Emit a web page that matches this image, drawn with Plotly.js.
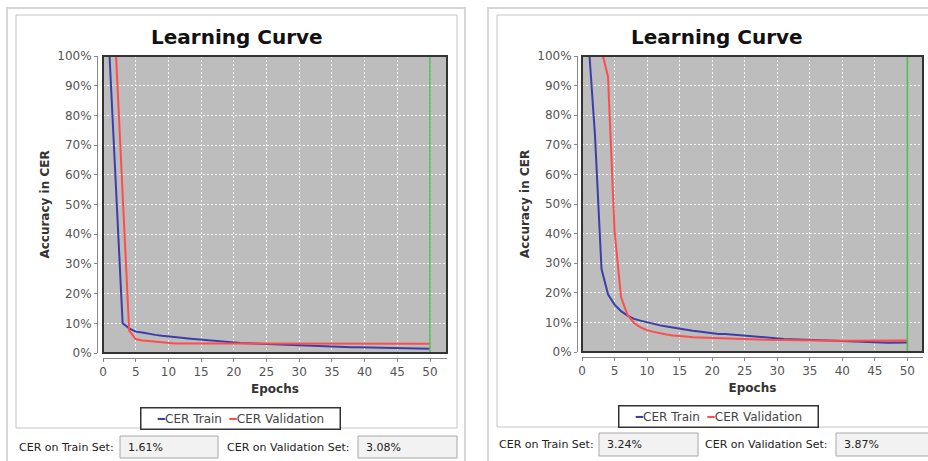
<!DOCTYPE html>
<html>
<head>
<meta charset="utf-8">
<script src="https://cdn.plot.ly/plotly-3.0.1.min.js"></script>
<style>html,body{margin:0;padding:0;background:#fff;}#chart{width:928px;height:461px;}</style>
</head>
<body>
<div id="chart"></div>
<script>
// ---------- data ----------
const epochs = [1,2,3,4,5,6,7,8,9,10,11,12,13,14,15,16,17,18,19,20,21,22,23,24,25,26,27,28,29,30,31,32,33,34,35,36,37,38,39,40,41,42,43,44,45,46,47,48,49,50];
const xTickVals = [0,5,10,15,20,25,30,35,40,45,50];
const yTickVals = [0,10,20,30,40,50,60,70,80,90,100];
const yTickText = ['0%','10%','20%','30%','40%','50%','60%','70%','80%','90%','100%'];

// left chart
const trainA = [100,55,10,8.3,7.2,6.9,6.4,6.1,5.8,5.5,5.3,5.1,4.9,4.7,4.5,4.4,4.1,3.8,3.6,3.5,3.4,3.3,3.2,3.1,3.0,2.95,2.9,2.8,2.7,2.6,2.5,2.4,2.3,2.1,2.0,2.0,1.95,1.9,1.9,1.85,1.85,1.8,1.8,1.75,1.75,1.7,1.7,1.6,1.5,1.45];
const valA = [null,100,54,7.5,4.7,4.2,4.0,3.8,3.5,3.3,3.2,3.2,3.2,3.2,3.2,3.2,3.2,3.2,3.2,3.2,3.15,3.1,3.1,3.05,3.0,3.0,3.0,3.0,3.0,3.0,3.0,3.0,3.0,3.0,3.0,3.0,3.0,3.0,3.0,3.0,3.0,3.0,3.0,3.0,3.0,3.0,3.05,3.05,3.05,3.08];
const bestA = [50,50];
const cerTrainA = '1.61%';
const cerValA = '3.08%';

// right chart
const trainB = [105,73,28,19.5,16,13.8,12.3,11.2,10.6,10.0,9.5,9.0,8.6,8.2,7.8,7.5,7.2,6.9,6.6,6.3,6.1,6.1,5.9,5.6,5.4,5.2,5.0,4.9,4.7,4.5,4.4,4.3,4.2,4.1,4.0,3.95,3.9,3.85,3.8,3.75,3.7,3.6,3.5,3.4,3.3,3.2,3.1,3.2,3.25,3.24];
const valB = [null,null,102,93,41,18.5,12.5,9.8,8.3,7.4,6.8,6.3,5.9,5.6,5.3,5.2,5.0,4.9,4.8,4.7,4.6,4.55,4.5,4.4,4.3,4.25,4.2,4.15,4.1,4.0,3.95,3.9,3.9,3.9,3.85,3.85,3.8,3.8,3.8,3.8,3.8,3.8,3.8,3.8,3.8,3.8,3.85,3.85,3.85,3.87];
const bestB = [50,50];
const cerTrainB = '3.24%';
const cerValB = '3.87%';

const bestY = [0,100];
const seriesNames = ['CER Train','CER Validation'];
const chartTitle = 'Learning Curve';
const xTitle = 'Epochs';
const yTitle = 'Accuracy in CER';

// ---------- layout helpers ----------
const W = 928, H = 461;
const px = v => v / W;
const py = v => 1 - v / H;
const BLUE = '#3d3daa', RED = '#ff4d4d', GREEN = '#4cc04c';
const FONT = 'DejaVu Sans, Verdana, sans-serif';
const GRID = {showgrid: true, gridcolor: 'rgba(255,255,255,0.85)', griddash: '2px,2px', gridwidth: 1, zeroline: false};

function traces(xa, ya, tr, va, best) {
  return [
    {x: epochs, y: tr, xaxis: xa, yaxis: ya, type: 'scatter', mode: 'lines', name: seriesNames[0],
     line: {color: BLUE, width: 2}, showlegend: false, hoverinfo: 'skip'},
    {x: epochs, y: va, xaxis: xa, yaxis: ya, type: 'scatter', mode: 'lines', name: seriesNames[1],
     line: {color: RED, width: 2}, showlegend: false, hoverinfo: 'skip', connectgaps: false},
    {x: best, y: bestY, xaxis: xa, yaxis: ya, type: 'scatter', mode: 'lines', name: 'best',
     line: {color: GREEN, width: 1.5}, showlegend: false, hoverinfo: 'skip'}
  ];
}

function xAxis(domain, range, pos) {
  return Object.assign({domain: domain, range: range, anchor: 'free', position: pos,
    tickvals: xTickVals, ticks: 'outside', ticklen: 3, tickcolor: '#888',
    showline: true, linecolor: '#888', linewidth: 1,
    tickfont: {family: FONT, size: 12, color: '#555'},
    title: {text: xTitle, font: {family: FONT, size: 12, color: '#333', weight: 'bold'}, standoff: 6}}, GRID);
}
function yAxis(domain, pos) {
  return Object.assign({domain: domain, range: [0, 100], anchor: 'free', position: pos,
    tickvals: yTickVals, ticktext: yTickText, ticks: 'outside', ticklen: 3, tickcolor: '#888',
    showline: true, linecolor: '#888', linewidth: 1,
    tickfont: {family: FONT, size: 12, color: '#555'},
    title: {text: yTitle, font: {family: FONT, size: 12, color: '#333', weight: 'bold'}, standoff: 4}}, GRID);
}

const data = traces('x', 'y', trainA, valA, bestA).concat(traces('x2', 'y2', trainB, valB, bestB));

function rect(x0, y0, x1, y1, color, width, fill) {
  return {type: 'rect', xref: 'paper', yref: 'paper', x0: px(x0), x1: px(x1), y0: py(y0), y1: py(y1),
    line: {color: color, width: width}, fillcolor: fill || 'rgba(0,0,0,0)', layer: 'below'};
}
function frame(xr, yr) {
  return {type: 'rect', xref: xr + ' domain', yref: yr + ' domain', x0: 0, x1: 1, y0: 0, y1: 1,
    line: {color: '#333', width: 2}, layer: 'above'};
}

const shapes = [
  rect(7, 8, 465, 470, '#d6d6d6', 2),
  rect(16, 15, 457, 428, '#c4c4c4', 1),
  rect(120, 436, 218, 458, '#a8a8a8', 1, '#f2f2f2'),
  rect(358, 436, 457, 458, '#a8a8a8', 1, '#f2f2f2'),
  rect(488, 8, 940, 470, '#d6d6d6', 2),
  rect(497, 15, 940, 427, '#c4c4c4', 1),
  rect(599, 433, 698, 456, '#a8a8a8', 1, '#f2f2f2'),
  rect(836, 433, 940, 456, '#a8a8a8', 1, '#f2f2f2'),
  frame('x', 'y'),
  frame('x2', 'y2')
];

function txt(x, y, text, size, opts) {
  return Object.assign({xref: 'paper', yref: 'paper', x: px(x), y: py(y), text: text, showarrow: false,
    xanchor: 'left', yanchor: 'middle', font: {family: FONT, size: size, color: '#222'}}, opts || {});
}
const legText = '<span style="color:' + BLUE + '">━</span>' + seriesNames[0] + '  <span style="color:' + RED + '">━</span>' + seriesNames[1];

const annotations = [
  txt(237, 37, chartTitle, 20, {xanchor: 'center', font: {family: FONT, size: 20, color: '#111', weight: 'bold'}}),
  txt(717, 37, chartTitle, 20, {xanchor: 'center', font: {family: FONT, size: 20, color: '#111', weight: 'bold'}}),
  txt(240, 418, legText, 12, {xanchor: 'center', width: 194, height: 16, bordercolor: '#333', borderwidth: 1.5, borderpad: 2, bgcolor: '#fff', font: {family: FONT, size: 12, color: '#444'}}),
  txt(718, 416, legText, 12, {xanchor: 'center', width: 194, height: 16, bordercolor: '#333', borderwidth: 1.5, borderpad: 2, bgcolor: '#fff', font: {family: FONT, size: 12, color: '#444'}}),
  txt(17, 447, 'CER on Train Set:', 11),
  txt(126, 447, cerTrainA, 11),
  txt(225, 447, 'CER on Validation Set:', 11),
  txt(364, 447, cerValA, 11),
  txt(497, 444, 'CER on Train Set:', 11),
  txt(605, 444, cerTrainB, 11),
  txt(703, 444, 'CER on Validation Set:', 11),
  txt(842, 444, cerValB, 11)
];

const layout = {
  width: W, height: H, margin: {l: 0, r: 0, t: 0, b: 0},
  paper_bgcolor: '#ffffff', plot_bgcolor: '#bdbdbd', showlegend: false,
  xaxis: xAxis([px(103), px(447)], [0, 52.6], py(358)),
  yaxis: yAxis([py(353), py(56)], px(97)),
  xaxis2: xAxis([px(582), px(923)], [0, 52.4], py(357)),
  yaxis2: yAxis([py(352), py(56)], px(577)),
  shapes: shapes,
  annotations: annotations
};

Plotly.newPlot('chart', data, layout, {staticPlot: true, displayModeBar: false});
</script>
</body>
</html>
